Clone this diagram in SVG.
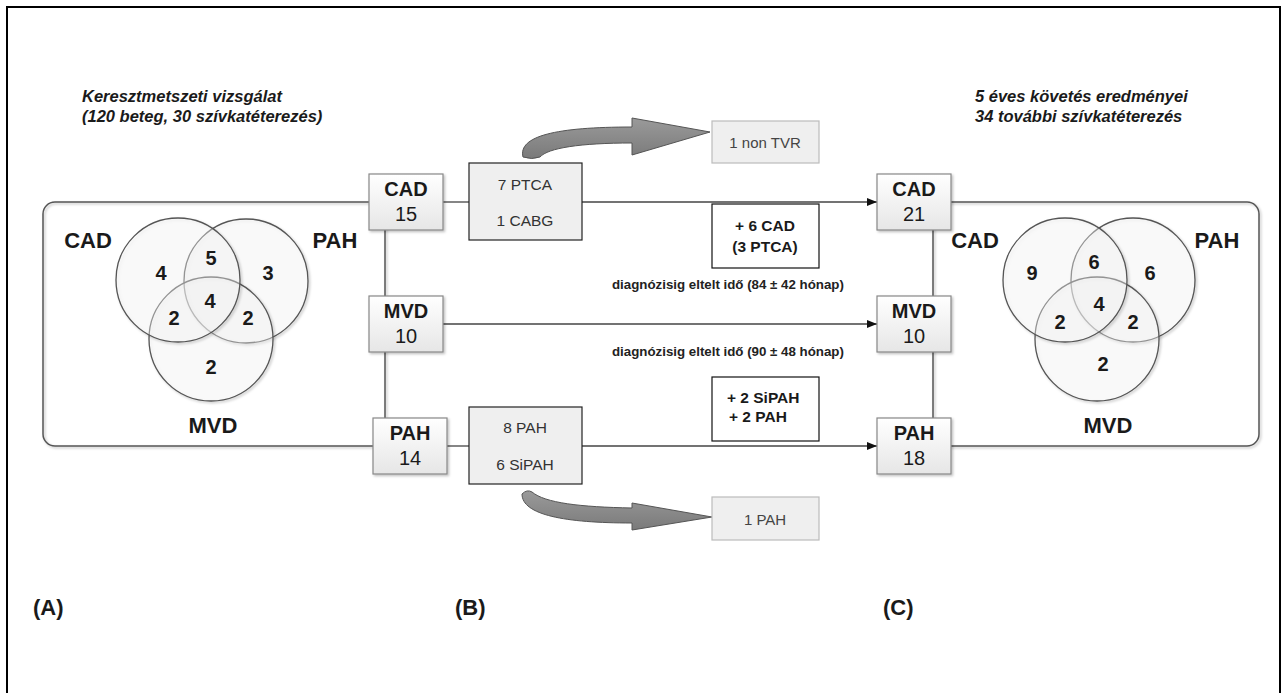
<svg xmlns="http://www.w3.org/2000/svg" width="1283" height="693" viewBox="0 0 1283 693">
<style>
text{font-family:"Liberation Sans",Arial,sans-serif;fill:#1a1a1a}
.b{font-weight:bold}
.title{font-size:16.5px;font-weight:bold;font-style:italic}
.venn{font-size:22px;font-weight:bold;text-anchor:middle}
.num{font-size:20px;font-weight:bold;text-anchor:middle}
.bl{font-size:20px;text-anchor:middle}
.sm{font-size:15.5px;text-anchor:middle;fill:#333}
.note{font-size:15.5px;font-weight:bold;text-anchor:middle}
.diag{font-size:13.3px;font-weight:bold;fill:#222}
.panel{font-size:22px;font-weight:bold}
.node{fill:url(#gbox);stroke:#888;stroke-width:1.2}
.tbox{fill:#efefef;stroke:#222;stroke-width:1.2}
.out{fill:#efefef;stroke:#bbb;stroke-width:1.2}
.plus{fill:#fff;stroke:#111;stroke-width:1.2}
.circ{fill:#fff;fill-opacity:0.35;stroke:#555;stroke-width:1.3}
.grp{fill:none;stroke:#555;stroke-width:1.5}
.ln{stroke:#444;stroke-width:1.3;fill:none}
.bigarrow{fill:url(#garr);stroke:#555;stroke-width:1}
</style>
<defs>
<linearGradient id="gbox" x1="0" y1="0" x2="0" y2="1">
<stop offset="0" stop-color="#ffffff"/>
<stop offset="1" stop-color="#e6e6e6"/>
</linearGradient>
<linearGradient id="garr" x1="0" y1="0" x2="0" y2="1">
<stop offset="0" stop-color="#9a9a9a"/>
<stop offset="1" stop-color="#7a7a7a"/>
</linearGradient>
<filter id="sh" x="-10%" y="-10%" width="130%" height="130%">
<feDropShadow dx="1.5" dy="1.5" stdDeviation="1.2" flood-color="#000" flood-opacity="0.25"/>
</filter>
<marker id="arr" viewBox="0 0 10 8" refX="10" refY="4" markerWidth="10" markerHeight="8" markerUnits="userSpaceOnUse" orient="auto">
<path d="M0,0 L10,4 L0,8 Z" fill="#111"/>
</marker>
</defs>
<rect x="7" y="7" width="1273" height="700" fill="#fff" stroke="#000" stroke-width="2"/>

<g id="titles">
<text class="title" x="82" y="102">Keresztmetszeti vizsgálat</text>
<text class="title" x="82" y="122">(120 beteg, 30 szívkatéterezés)</text>
<text class="title" x="975" y="102">5 éves követés eredményei</text>
<text class="title" x="975" y="122">34 további szívkatéterezés</text>
</g>

<g id="groupA">
<rect class="grp" x="43" y="202" width="342" height="244" rx="12" filter="url(#sh)"/>
</g>
<g id="groupC">
<rect class="grp" x="933" y="202" width="326" height="244" rx="12" filter="url(#sh)"/>
</g>

<g id="connectors">
<line class="ln" x1="443" y1="202" x2="469" y2="202"/>
<line class="ln" x1="582" y1="202" x2="877" y2="202" marker-end="url(#arr)"/>
<line class="ln" x1="443" y1="324" x2="877" y2="324" marker-end="url(#arr)"/>
<line class="ln" x1="447" y1="446" x2="469" y2="446"/>
<line class="ln" x1="582" y1="446" x2="877" y2="446" marker-end="url(#arr)"/>
<path class="bigarrow" d="M523,157 C518,136 556,127 632,127 L632,118 L710,132 L632,155 L632,143 C580,143 548,148 540,157 Q532,160 523,157 Z"/>
<path class="bigarrow" d="M522,494 Q527,489 532,492 C545,503 580,507 632,508 L632,503 L712,517 L632,530 L632,523 C565,523 522,515 522,494 Z"/>
</g>

<g id="vennA">
<circle class="circ" cx="246" cy="281" r="62" filter="url(#sh)"/>
<circle class="circ" cx="211" cy="339" r="62" filter="url(#sh)"/>
<circle class="circ" cx="178" cy="280" r="62" filter="url(#sh)"/>
<text class="venn" x="88" y="248">CAD</text>
<text class="venn" x="335" y="248">PAH</text>
<text class="venn" x="213" y="433">MVD</text>
<text class="num" x="161" y="280">4</text>
<text class="num" x="211" y="265">5</text>
<text class="num" x="268" y="280">3</text>
<text class="num" x="210" y="308">4</text>
<text class="num" x="174" y="325">2</text>
<text class="num" x="248" y="325">2</text>
<text class="num" x="211" y="374">2</text>
</g>

<g id="vennC">
<circle class="circ" cx="1133" cy="280" r="62" filter="url(#sh)"/>
<circle class="circ" cx="1097" cy="339" r="62" filter="url(#sh)"/>
<circle class="circ" cx="1065" cy="280" r="62" filter="url(#sh)"/>
<text class="venn" x="975" y="248">CAD</text>
<text class="venn" x="1217" y="248">PAH</text>
<text class="venn" x="1108" y="433">MVD</text>
<text class="num" x="1032" y="280">9</text>
<text class="num" x="1094" y="269">6</text>
<text class="num" x="1150" y="280">6</text>
<text class="num" x="1099" y="311">4</text>
<text class="num" x="1060" y="329">2</text>
<text class="num" x="1133" y="329">2</text>
<text class="num" x="1103" y="371">2</text>
</g>

<g id="cad15"><rect class="node" x="369" y="174" width="74" height="56" filter="url(#sh)"/><text class="bl b" x="406" y="196">CAD</text><text class="bl" x="406" y="221">15</text></g>
<g id="mvd10a"><rect class="node" x="369" y="296" width="74" height="56" filter="url(#sh)"/><text class="bl b" x="406" y="318">MVD</text><text class="bl" x="406" y="343">10</text></g>
<g id="pah14"><rect class="node" x="373" y="418" width="74" height="56" filter="url(#sh)"/><text class="bl b" x="410" y="440">PAH</text><text class="bl" x="410" y="465">14</text></g>

<g id="cad21"><rect class="node" x="877" y="174" width="74" height="56" filter="url(#sh)"/><text class="bl b" x="914" y="196">CAD</text><text class="bl" x="914" y="221">21</text></g>
<g id="mvd10c"><rect class="node" x="877" y="296" width="74" height="56" filter="url(#sh)"/><text class="bl b" x="914" y="318">MVD</text><text class="bl" x="914" y="343">10</text></g>
<g id="pah18"><rect class="node" x="877" y="418" width="74" height="56" filter="url(#sh)"/><text class="bl b" x="914" y="440">PAH</text><text class="bl" x="914" y="465">18</text></g>

<g id="treatCAD"><rect class="tbox" x="469" y="163" width="113" height="77"/><text class="sm" x="525" y="190">7 PTCA</text><text class="sm" x="525" y="226">1 CABG</text></g>
<g id="treatPAH"><rect class="tbox" x="469" y="407" width="113" height="77"/><text class="sm" x="525" y="433">8 PAH</text><text class="sm" x="525" y="470">6 SiPAH</text></g>

<g id="nonTVR"><rect class="out" x="712" y="121" width="107" height="42"/><text class="sm" x="765" y="148" style="font-size:15px;fill:#444">1 non TVR</text></g>
<g id="onePAH"><rect class="out" x="712" y="497" width="107" height="43"/><text class="sm" x="765" y="525" style="font-size:15px;fill:#444">1 PAH</text></g>

<g id="plusCAD"><rect class="plus" x="712" y="204" width="107" height="64"/><text class="note" x="765" y="231">+ 6 CAD</text><text class="note" x="765" y="252">(3 PTCA)</text></g>
<g id="plusPAH"><rect class="plus" x="712" y="377" width="107" height="64"/><text class="note" x="727" y="403" style="text-anchor:start">+ 2 SiPAH</text><text class="note" x="729" y="422" style="text-anchor:start">+ 2 PAH</text></g>

<g id="labels">
<text class="diag" x="612" y="289">diagnózisig eltelt idő (84 ± 42 hónap)</text>
<text class="diag" x="612" y="356">diagnózisig eltelt idő (90 ± 48 hónap)</text>
<text class="panel" x="33" y="615">(A)</text>
<text class="panel" x="455" y="615">(B)</text>
<text class="panel" x="883" y="615">(C)</text>
</g>
</svg>
